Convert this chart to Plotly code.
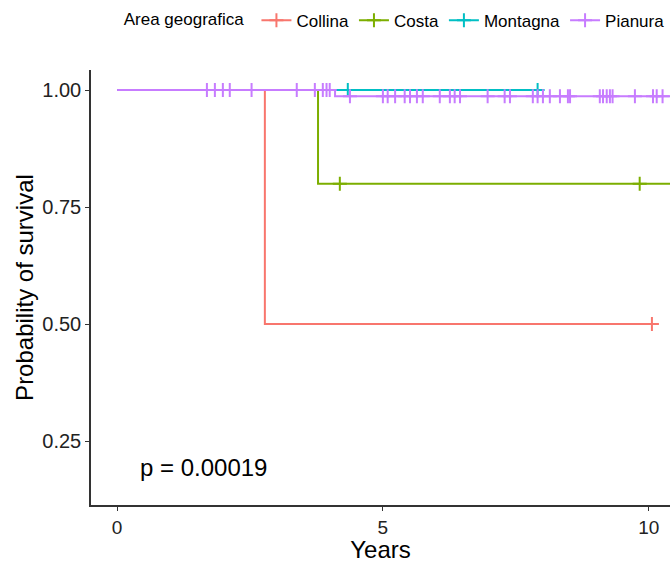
import plotly.graph_objects as go

# ---- data ----
groups = ["Collina", "Costa", "Montagna", "Pianura"]
colors = ["#F8766D", "#7CAE00", "#00BFC4", "#C77CFF"]

# step curves: times and survival probabilities
collina_t = [0, 2.78, 10.06]
collina_s = [1.0, 0.5, 0.5]
costa_t = [0, 3.78, 11.5]
costa_s = [1.0, 0.8, 0.8]
montagna_t = [0, 7.91]
montagna_s = [1.0, 1.0]
pianura_t = [0, 4.10, 11.5]
pianura_s = [1.0, 0.987, 0.987]

# censor marks
collina_cens_t = [10.06]
collina_cens_s = [0.5]
costa_cens_t = [4.19, 9.83]
costa_cens_s = [0.8, 0.8]
montagna_cens_t = [4.34, 7.91]
montagna_cens_s = [1.0, 1.0]
pianura_cens_t = [1.69, 1.84, 1.99, 2.12, 2.53, 3.38, 3.72, 3.87, 3.94, 4.00,
                  4.38, 5.00, 5.09, 5.23, 5.41, 5.51, 5.64, 5.75, 6.07, 6.26,
                  6.35, 6.45, 6.97, 7.29, 7.39, 7.82, 7.91, 8.01, 8.14, 8.33,
                  8.48, 8.52, 9.08, 9.14, 9.21, 9.27, 9.32, 9.74, 10.08, 10.15,
                  10.26]
pianura_cens_s = [1.0] * 10 + [0.987] * 31

curves = [
    (collina_t, collina_s, collina_cens_t, collina_cens_s),
    (costa_t, costa_s, costa_cens_t, costa_cens_s),
    (montagna_t, montagna_s, montagna_cens_t, montagna_cens_s),
    (pianura_t, pianura_s, pianura_cens_t, pianura_cens_s),
]

x_ticks = [0, 5, 10]
y_ticks = [0.25, 0.50, 0.75, 1.00]
y_tick_labels = ["0.25", "0.50", "0.75", "1.00"]
p_text = "p = 0.00019"

FONT = "Liberation Sans, Arial, sans-serif"

fig = go.Figure()
for name, col, (t, s, ct, cs) in zip(groups, colors, curves):
    fig.add_trace(go.Scatter(x=t, y=s, mode="lines", line=dict(color=col, width=2, shape="hv"),
                             showlegend=False, hoverinfo="skip"))
    fig.add_trace(go.Scatter(x=ct, y=cs, mode="markers",
                             marker=dict(symbol="cross-thin", size=10, line=dict(color=col, width=2)),
                             showlegend=False))
    fig.add_trace(go.Scatter(x=[None], y=[None], mode="lines+markers", name=name,
                             line=dict(color=col, width=2),
                             marker=dict(symbol="cross-thin", size=10, line=dict(color=col, width=2))))

fig.add_annotation(x=0.395, y=0.194, xref="x", yref="y", text=p_text, showarrow=False,
                   xanchor="left", yanchor="middle", font=dict(family=FONT, size=24, color="black"))

fig.update_layout(
    width=670, height=563,
    margin=dict(l=91, r=0, t=70, b=58, autoexpand=False),
    plot_bgcolor="white", paper_bgcolor="white",
    font=dict(family=FONT, color="black"),
    legend=dict(orientation="h", x=0.053, xanchor="left", y=1.155, yanchor="top",
                title=dict(text="Area geografica ", font=dict(size=17, family=FONT)),
                font=dict(size=17, family=FONT), itemwidth=30, tracegroupgap=0),
    xaxis=dict(range=[-0.49, 10.4], tickvals=x_ticks, ticks="outside", ticklen=4,
               tickcolor="#333333", showline=True, linecolor="#333333", linewidth=1.5,
               showgrid=False, zeroline=False, tickfont=dict(size=19, color="#222222"),
               automargin=False,
               title=dict(text="Years", font=dict(size=24), standoff=6)),
    yaxis=dict(range=[0.1132, 1.043], tickvals=y_ticks, ticktext=y_tick_labels, ticks="outside",
               ticklen=4, tickcolor="#333333", showline=True, linecolor="#333333", linewidth=1.5,
               showgrid=False, zeroline=False, tickfont=dict(size=20, color="#222222"),
               automargin=False,
               title=dict(text="Probability of survival", font=dict(size=24), standoff=2)),
)

fig.write_html("out.html")
